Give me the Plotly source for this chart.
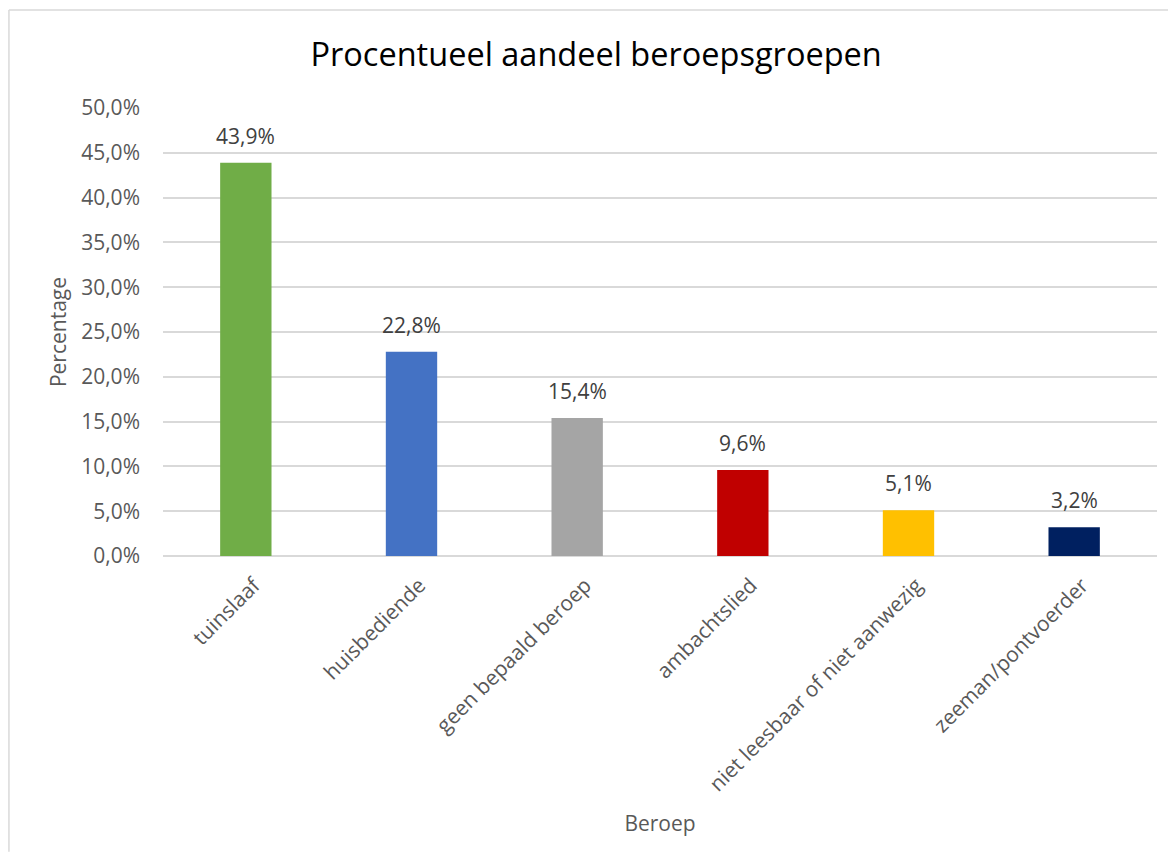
import plotly.graph_objects as go

beroepen = [
    "tuinslaaf",
    "huisbediende",
    "geen bepaald beroep",
    "ambachtslied",
    "niet leesbaar of niet aanwezig",
    "zeeman/pontvoerder",
]
aandeel = [0.439, 0.228, 0.154, 0.096, 0.051, 0.032]
kleuren = ["#70AD47", "#4472C4", "#A5A5A5", "#C00000", "#FFC000", "#002060"]
y_ticks = [0.0, 0.05, 0.10, 0.15, 0.20, 0.25, 0.30, 0.35, 0.40, 0.45, 0.50]

FONT = "Open Sans"
GREY = "#595959"

fig = go.Figure()
fig.add_trace(
    go.Bar(
        x=beroepen,
        y=aandeel,
        marker=dict(color=kleuren, line=dict(width=0)),
        showlegend=False,
        hoverinfo="x+y",
    )
)

# data labels above the bars
for naam, waarde in zip(beroepen, aandeel):
    fig.add_annotation(
        x=naam,
        y=waarde,
        text=f"{waarde * 100:.1f}%".replace(".", ","),
        showarrow=False,
        yanchor="bottom",
        yshift=11,
        font=dict(family=FONT, size=21, color="#404040"),
    )

# light grey chart border (Excel style), only left and top edges are in view
border = dict(color="#D9D9D9", width=1.5)
fig.add_shape(type="line", xref="paper", yref="paper", x0=-0.155, x1=-0.155, y0=-0.66, y1=1.2188, line=border)
fig.add_shape(type="line", xref="paper", yref="paper", x0=-0.155, x1=1.012, y0=1.2188, y1=1.2188, line=border)

fig.update_layout(
    width=1160,
    height=850,
    separators=",.",
    bargap=0.69,
    paper_bgcolor="white",
    plot_bgcolor="white",
    font=dict(family=FONT, size=21, color=GREY),
    title=dict(
        text="Procentueel aandeel beroepsgroepen",
        x=0.507,
        xanchor="center",
        y=0.945,
        yanchor="middle",
        font=dict(family=FONT, size=32.5, color="#000000"),
    ),
    margin=dict(l=155, r=11, t=100, b=302),
    xaxis=dict(
        tickangle=-45,
        showgrid=False,
        showline=False,
        ticks="",
        ticklabelstandoff=12,
        ticklabelshift=8,
        title=dict(text="Beroep", font=dict(size=21, color=GREY), standoff=20),
    ),
    yaxis=dict(
        range=[0, 0.5],
        tickvals=y_ticks,
        tickformat=".1%",
        showgrid=True,
        gridcolor="#D9D9D9",
        gridwidth=1.5,
        zeroline=True,
        zerolinecolor="#D9D9D9",
        zerolinewidth=1.5,
        showline=False,
        ticks="",
        ticklabelstandoff=22,
        title=dict(text="Percentage", font=dict(size=21, color=GREY), standoff=8),
    ),
)

fig.write_html("out.html")
